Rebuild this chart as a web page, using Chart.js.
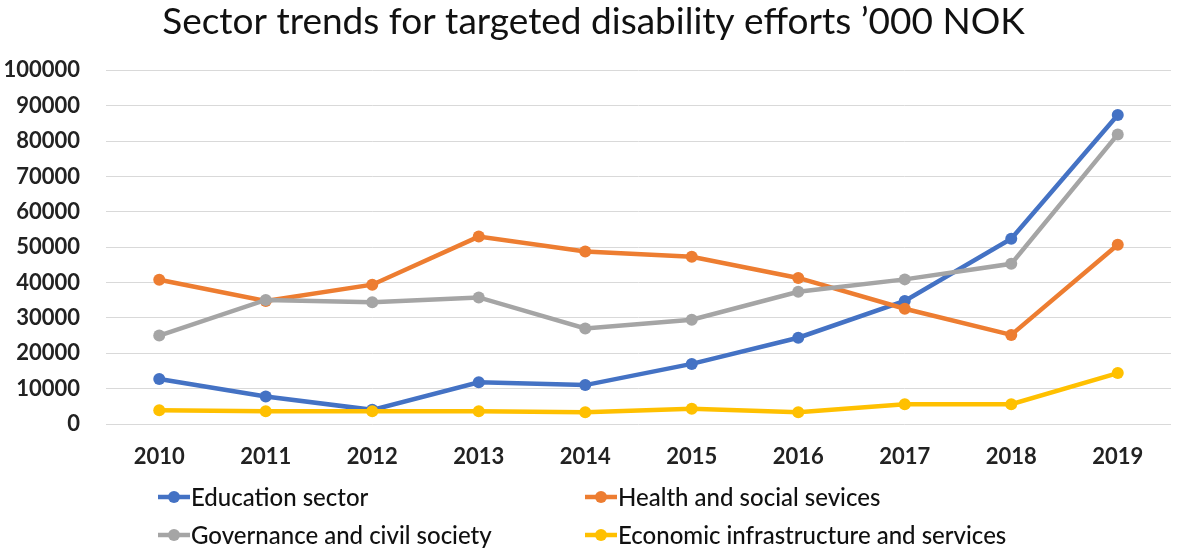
<!DOCTYPE html>
<html>
<head>
<meta charset="utf-8">
<script src="https://cdn.jsdelivr.net/npm/chart.js@4/dist/chart.umd.min.js"></script>
<style>
  html, body { margin: 0; padding: 0; background: #fff; }
  #wrap { width: 1177px; height: 548px; position: relative; }
</style>
</head>
<body>
<div id="wrap"><canvas id="sectorChart"></canvas></div>
<script>
// values, '000 NOK
const years = ["2010", "2011", "2012", "2013", "2014", "2015", "2016", "2017", "2018", "2019"];
const education = [12700, 7800, 4000, 11800, 11000, 17000, 24400, 34800, 52400, 87400];
const health = [40800, 34800, 39400, 53000, 48800, 47300, 41300, 32600, 25200, 50700];
const governance = [25000, 35100, 34400, 35800, 27000, 29500, 37400, 40900, 45300, 81900];
const economic = [3900, 3600, 3600, 3600, 3300, 4300, 3300, 5600, 5600, 14400];
const seriesNames = ["Education sector", "Health and social sevices", "Governance and civil society", "Economic infrastructure and services"];
const yTicks = [0, 10000, 20000, 30000, 40000, 50000, 60000, 70000, 80000, 90000, 100000];

const colors = ["#4472C4", "#ED7D31", "#A5A5A5", "#FFC000"];

function makeSet(i, data) {
  return {
    label: seriesNames[i],
    data: data,
    borderColor: colors[i],
    backgroundColor: colors[i],
    borderWidth: 4.5,
    pointRadius: 6,
    pointHoverRadius: 6,
    pointBorderWidth: 0,
    tension: 0,
    order: 4 - i   // later series painted on top, like the original
  };
}

// two-column legend under the axis
const gridLegend = {
  id: "gridLegend",
  afterDraw(chart) {
    const ctx = chart.ctx;
    const cols = [158, 585];
    const rows = [497, 535];
    ctx.save();
    ctx.font = "500 24px Lato";
    ctx.textBaseline = "middle";
    chart.data.datasets.forEach((ds, i) => {
      const x = cols[i % 2];
      const y = rows[Math.floor(i / 2)];
      ctx.strokeStyle = ds.borderColor;
      ctx.lineWidth = 4.5;
      ctx.beginPath();
      ctx.moveTo(x, y);
      ctx.lineTo(x + 32, y);
      ctx.stroke();
      ctx.fillStyle = ds.borderColor;
      ctx.beginPath();
      ctx.arc(x + 16, y, 6, 0, Math.PI * 2);
      ctx.fill();
      ctx.fillStyle = "#111";
      ctx.fillText(ds.label, x + 33, y + 1);
    });
    ctx.restore();
  }
};

new Chart(document.getElementById("sectorChart"), {
  type: "line",
  data: {
    labels: years,
    datasets: [
      makeSet(0, education),
      makeSet(1, health),
      makeSet(2, governance),
      makeSet(3, economic)
    ]
  },
  options: {
    responsive: true,
    maintainAspectRatio: false,
    animation: false,
    layout: { padding: { left: 4, right: -6, top: 0, bottom: 80 } },
    plugins: {
      legend: { display: false },
      tooltip: { enabled: false },
      title: {
        display: true,
        text: "Sector trends for targeted disability efforts \u2019000 NOK",
        color: "#111",
        font: { family: "Lato", size: 37, weight: "normal" },
        padding: { top: 0, bottom: 26 }
      }
    },
    scales: {
      x: {
        offset: true,
        afterFit: axis => { axis.height = 44; },
        grid: { display: false, drawTicks: false },
        border: { display: false },
        ticks: {
          color: "#222",
          padding: 20,
          maxRotation: 0,
          font: { family: "Lato", size: 22, weight: "bold" }
        }
      },
      y: {
        min: 0,
        max: 100000,
        afterBuildTicks: axis => { axis.ticks = yTicks.map(v => ({ value: v })); },
        afterFit: axis => { axis.width = 102; },
        grid: { color: "#d9d9d9", lineWidth: 1, drawTicks: false },
        border: { display: false },
        ticks: {
          color: "#222",
          padding: 26,
          font: { family: "Lato", size: 22, weight: "bold" },
          callback: v => String(v)
        }
      }
    }
  },
  plugins: [gridLegend]
});
</script>
</body>
</html>
